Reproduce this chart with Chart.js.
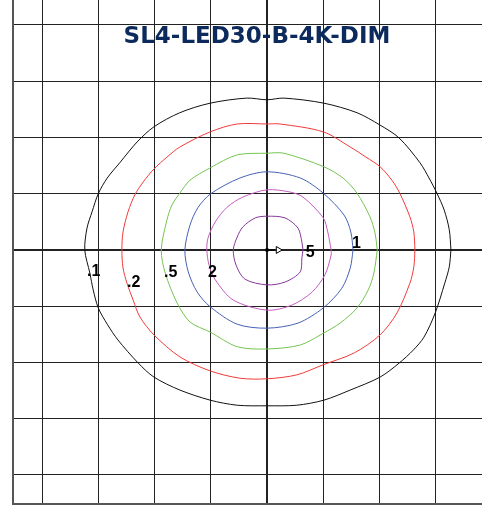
<!DOCTYPE html>
<html>
<head>
<meta charset="utf-8">
<script src="https://cdn.jsdelivr.net/npm/chart.js@4.4.1/dist/chart.umd.min.js"></script>
<style>
  body { margin: 0; background: #fff; }
  canvas { display: block; }
</style>
</head>
<body>
<canvas id="isoChart" width="482" height="510"></canvas>
<script>
// grid in mounting heights, luminaire at 0,0
const xTicks = [-4, -3, -2, -1, 0, 1, 2, 3];
const yTicks = [-4, -3, -2, -1, 0, 1, 2, 3, 4];

// isofootcandle contours
const fc01 = [[3.27,0],[3.24,0.36],[3.15,0.71],[3.02,1.01],[2.88,1.28],[2.72,1.55],[2.35,1.99],[2.01,2.22],[1.6,2.44],[1.01,2.61],[0.3,2.7],[0,2.67],[-0.36,2.7],[-1.01,2.61],[-1.55,2.44],[-2.01,2.19],[-2.31,1.92],[-2.61,1.56],[-2.84,1.28],[-3.0,1.0],[-3.11,0.68],[-3.2,0.39],[-3.24,0],[-3.15,-0.41],[-3.09,-0.71],[-3.0,-1.03],[-2.84,-1.32],[-2.65,-1.6],[-2.29,-2.01],[-2.01,-2.26],[-1.55,-2.49],[-1.01,-2.67],[-0.53,-2.76],[0,-2.77],[0.53,-2.76],[1.01,-2.67],[1.48,-2.49],[2.01,-2.26],[2.35,-2.01],[2.6,-1.78],[2.79,-1.55],[2.99,-1.12],[3.16,-0.59],[3.24,-0.3],[3.27,0]];
const fc02 = [[2.63,0],[2.61,0.32],[2.54,0.59],[2.36,1.01],[2.22,1.24],[2.01,1.48],[1.76,1.65],[1.48,1.83],[1.0,2.1],[0.23,2.24],[0,2.24],[-0.53,2.24],[-1.01,2.1],[-1.55,1.83],[-1.78,1.65],[-2.01,1.44],[-2.2,1.21],[-2.35,0.98],[-2.47,0.68],[-2.56,0.32],[-2.58,0],[-2.56,-0.32],[-2.49,-0.59],[-2.38,-0.89],[-2.26,-1.19],[-2.01,-1.51],[-1.55,-1.9],[-1.01,-2.15],[-0.48,-2.28],[0,-2.29],[0.53,-2.22],[1.0,-2.04],[1.55,-1.83],[2.01,-1.51],[2.31,-1.12],[2.54,-0.59],[2.61,-0.3],[2.63,0]];
const fc05 = [[1.96,0],[1.92,0.3],[1.83,0.59],[1.6,1.01],[1.35,1.28],[1.01,1.48],[0.3,1.72],[0,1.72],[-0.53,1.69],[-1.01,1.46],[-1.37,1.24],[-1.55,1.01],[-1.69,0.8],[-1.78,0.53],[-1.88,0],[-1.81,-0.41],[-1.6,-0.94],[-1.37,-1.28],[-1.01,-1.46],[-0.53,-1.72],[0,-1.76],[0.59,-1.69],[1.0,-1.48],[1.3,-1.3],[1.6,-1.03],[1.8,-0.71],[1.9,-0.41],[1.96,0]];
const fc1 = [[1.53,0],[1.49,0.32],[1.37,0.62],[1.0,1.01],[0.59,1.28],[0,1.39],[-0.48,1.28],[-1.0,1.0],[-1.23,0.75],[-1.37,0.44],[-1.46,0],[-1.4,-0.39],[-1.24,-0.75],[-1.01,-1.01],[-0.53,-1.32],[0,-1.39],[0.55,-1.3],[1.0,-1.03],[1.33,-0.68],[1.48,-0.32],[1.53,0]];
const fc2 = [[1.14,0],[1.08,0.32],[1.0,0.57],[0.64,0.94],[0.41,1.03],[0,1.07],[-0.43,0.94],[-0.71,0.76],[-0.92,0.5],[-1.05,0.21],[-1.07,0],[-1.03,-0.27],[-0.92,-0.53],[-0.6,-0.89],[0,-1.07],[0.44,-0.98],[0.8,-0.75],[1.03,-0.44],[1.14,-0.09],[1.14,0]];
const fc5 = [[0.64,0],[0.62,0.14],[0.55,0.39],[0.32,0.57],[0,0.6],[-0.21,0.57],[-0.43,0.41],[-0.53,0.23],[-0.6,0],[-0.55,-0.27],[-0.39,-0.52],[0,-0.62],[0.32,-0.57],[0.59,-0.39],[0.62,-0.14],[0.64,0]];

const contours = [fc01, fc02, fc05, fc1, fc2, fc5];
const contourColors = ['#111111', '#f23a3a', '#74c452', '#4561b5', '#c45cbf', '#86389a'];

// contour labels: text and anchor (left, baseline) in grid units
const labelText = ['.1', '.2', '.5', '2', '5', '1'];
const labelX = [-3.2, -2.49, -1.83, -1.05, 0.69, 1.51];
const labelY = [-0.46, -0.66, -0.48, -0.48, -0.12, 0.04];

const title = 'SL4-LED30-B-4K-DIM';

const datasets = contours.map((pts, i) => ({
  label: labelText[i],
  data: pts.map(p => ({ x: p[0], y: p[1] })),
  showLine: true,
  borderColor: contourColors[i],
  borderWidth: 1,
  pointRadius: 0,
  tension: 0.3
}));

// aiming arrow at the luminaire
datasets.push({
  data: [{ x: 0, y: 0 }, { x: 0.14, y: 0 }],
  showLine: true,
  borderColor: '#000',
  borderWidth: 1.5,
  pointRadius: [1.2, 0],
  pointBackgroundColor: '#000'
});
datasets.push({
  data: [{ x: 0.2, y: 0 }],
  pointStyle: 'triangle',
  rotation: 90,
  pointRadius: 4,
  pointBorderColor: '#000',
  pointBackgroundColor: '#fff',
  pointBorderWidth: 1
});

const overlayText = {
  id: 'overlayText',
  afterDatasetsDraw(chart) {
    const ctx = chart.ctx;
    const xs = chart.scales.x, ys = chart.scales.y;
    ctx.save();
    ctx.fillStyle = '#000';
    ctx.font = 'bold 16px "Liberation Sans", Arial, sans-serif';
    ctx.textAlign = 'left';
    ctx.textBaseline = 'alphabetic';
    labelText.forEach((t, i) => {
      ctx.fillText(t, xs.getPixelForValue(labelX[i]), ys.getPixelForValue(labelY[i]));
    });
    ctx.fillStyle = '#0c2a5b';
    ctx.font = 'bold 23px "DejaVu Sans", sans-serif';
    ctx.textAlign = 'center';
    ctx.fillText(title, 257, 43);
    ctx.restore();
  }
};

const gridWidth = c => (c.tick && c.tick.value === 0 ? 2 : 1);

new Chart(document.getElementById('isoChart'), {
  type: 'scatter',
  data: { datasets },
  options: {
    responsive: false,
    animation: false,
    layout: { autoPadding: false, padding: { left: 13, top: 0, right: 0, bottom: 6 } },
    plugins: { legend: { display: false }, tooltip: { enabled: false } },
    scales: {
      x: {
        min: -4.516, max: 3.822,
        afterBuildTicks: s => { s.ticks = xTicks.map(v => ({ value: v })); },
        ticks: { display: false },
        grid: { color: '#222', lineWidth: gridWidth, drawTicks: false },
        border: { display: true, color: '#555', width: 2 }
      },
      y: {
        min: -4.516, max: 4.444,
        afterBuildTicks: s => { s.ticks = yTicks.map(v => ({ value: v })); },
        ticks: { display: false },
        grid: { color: '#222', lineWidth: gridWidth, drawTicks: false },
        border: { display: true, color: '#555', width: 2 }
      }
    }
  },
  plugins: [overlayText]
});
</script>
</body>
</html>
